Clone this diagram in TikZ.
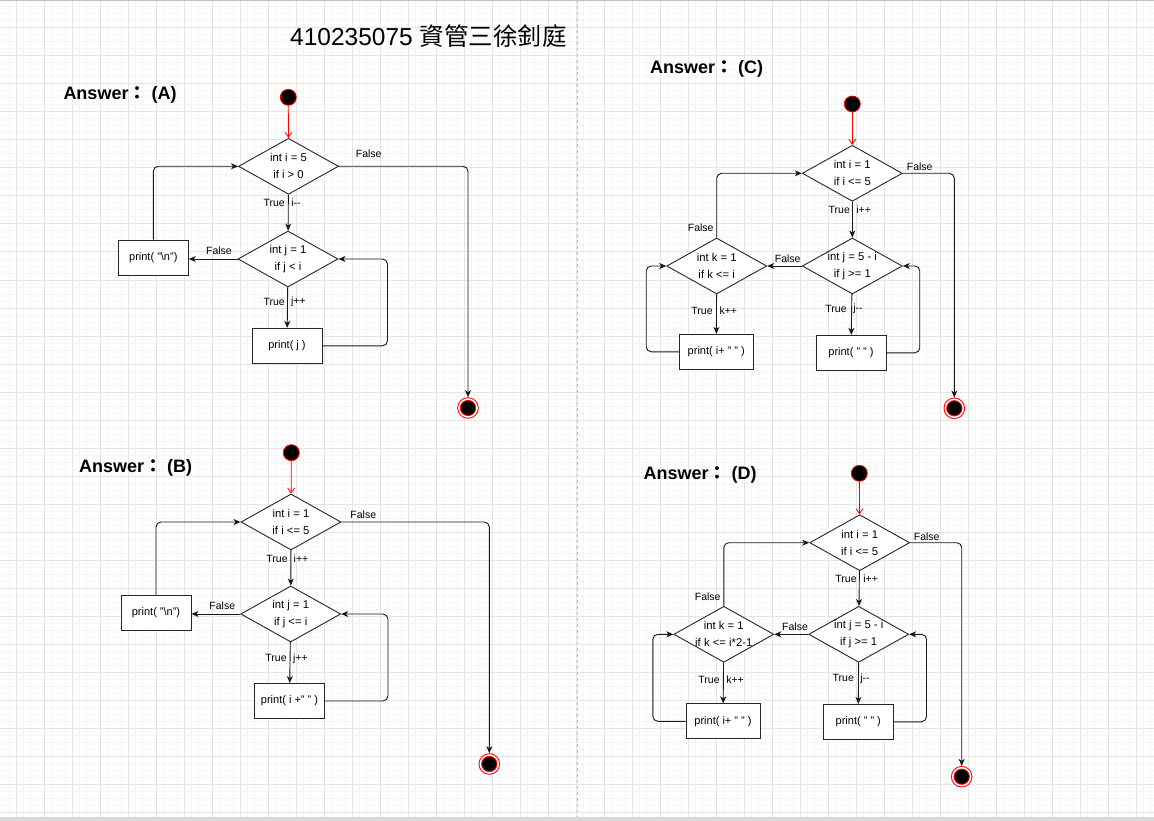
\documentclass[tikz,border=0pt]{standalone}
\usepackage{fontspec}
\setmainfont{Liberation Sans}
\newfontfamily\cjk{Noto Sans CJK TC}
\usetikzlibrary{shapes.geometric, arrows.meta, calc}
\tikzset{decision/.style={diamond, draw=black!85, fill=white, line width=0.9pt, minimum width=100pt, minimum height=56pt, inner xsep=-14pt, inner ysep=-6pt, align=center, font=\fontsize{11.3}{17}\selectfont},
box/.style={rectangle, draw=black!85, fill=white, line width=0.9pt, minimum width=70pt, minimum height=35pt, inner sep=0pt, font=\fontsize{11}{13}\selectfont},
widebox/.style={box, minimum width=74pt},
startstate/.style={circle, fill=black, draw=red, line width=0.8pt, minimum size=16pt, inner sep=0pt},
%end state: red ring round a black dot
endstate/.style={circle, fill=black, draw=red, line width=1pt, double=white, double distance=1.5pt, minimum size=18pt, inner sep=0pt, outer sep=1.75pt},
flow/.style={draw=black!90, line width=0.9pt, -{Stealth[length=7pt,width=6pt,inset=2pt]}, rounded corners=5pt},
startflow/.style={draw=red, line width=0.8pt, -{Straight Barb[length=5pt,width=7pt]}},
lbl/.style={font=\fontsize{10.5}{12}\selectfont, inner sep=0pt},
answer/.style={font=\fontsize{18}{20}\selectfont\bfseries, anchor=base west, inner sep=0pt},
gridminor/.style={black!4, line width=1pt},
gridmajor/.style={black!10, line width=1pt}}

\begin{document}
\begin{tikzpicture}[x=1pt,y=-1pt]
 \useasboundingbox (0,0) rectangle (1154,821);
 \fill[white] (0,0) rectangle (1154,821);
 
 % grid of the page
 \foreach \gx in {2,9,...,1154} \draw[gridminor] (\gx,0) -- (\gx,821);
 \foreach \gy in {7,14,...,821} \draw[gridminor] (0,\gy) -- (1154,\gy);
 \foreach \gx in {16,44,...,1154} \draw[gridmajor] (\gx,0) -- (\gx,821);
 \foreach \gy in {28,56,...,821} \draw[gridmajor] (0,\gy) -- (1154,\gy);
 \draw[black!25, line width=1pt] (0,0.5) -- (1154,0.5);
 \draw[black!25, line width=1pt, dash pattern=on 3pt off 3pt] (577,0) -- (577,817);
 \fill[black!15] (0,817) rectangle (1154,821);
 
 \node[anchor=base west, inner sep=0pt, font=\fontsize{24.5}{28}\selectfont] (title) at (290,46) {410235075 {\cjk 資管三徐釗庭}};
 
 % (A)
 \node[answer] (ansA) at (63.3,99.3) {Answer{\cjk ：} (A)};
 \node[startstate] (aStart) at (288.3,97.3) {};
 \node[decision] (aIf1) at (288.5,166.3) {int i = 5\\if i > 0};
 \node[decision] (aIf2) at (288,259) {int j = 1\\if j < i};
 \node[box] (aNl) at (153.3,257.5) {print( "\textbackslash n")};
 \node[box] (aPrt) at (287,345.8) {print( j )};
 \node[endstate] (aEnd) at (468,408) {};
 
 \node[lbl] (aF1) at (368.7,154) {False};
 \node[lbl] (aT1) at (274.2,203) {True};
 \node[lbl] (aI1) at (296,203) {i-{}-};
 \node[lbl] (aF2) at (219,251) {False};
 \node[lbl] (aT2) at (274.2,302) {True};
 \node[lbl] (aJ2) at (298.3,302) {j++};
 
 \draw[startflow] (aStart) -- (aIf1);
 \draw[flow] (aIf1.east) -| (aEnd);
 \draw[flow] (aIf1) -- (aIf2);
 \draw[flow] (aIf2.west) -- (aIf2.west -| aNl.east);
 \draw[flow] (aNl.north) |- (aIf1.west);
 \draw[flow] (aIf2) -- (aPrt);
 \draw[flow] (aPrt.east) -- ++(65,0) |- (aIf2.east);
 
 % (B)
 \node[answer] (ansB) at (79,472.3) {Answer{\cjk ：} (B)};
 \node[startstate] (bStart) at (291.3,452.7) {};
 \node[decision] (bIf1) at (291,522) {int i = 1\\if i <= 5};
 \node[decision] (bIf2) at (290.7,614) {int j = 1\\if j <= i};
 \node[box] (bNl) at (156,613) {print( "\textbackslash n")};
 \node[box] (bPrt) at (289.5,701) {print( i +" " )};
 \node[endstate] (bEnd) at (489.3,764) {};
 
 \node[lbl] (bF1) at (363.3,515) {False};
 \node[lbl] (bT1) at (277,559) {True};
 \node[lbl] (bI1) at (301,559) {i++};
 \node[lbl] (bF2) at (222.3,605.7) {False};
 \node[lbl] (bT2) at (276,658.3) {True};
 \node[lbl] (bJ2) at (300.3,658.3) {j++};
 
 \draw[startflow] (bStart) -- (bIf1);
 \draw[flow] (bIf1.east) -| (bEnd);
 \draw[flow] (bIf1) -- (bIf2);
 \draw[flow] (bIf2.west) -- (bIf2.west -| bNl.east);
 \draw[flow] (bNl.north) |- (bIf1.west);
 \draw[flow] (bIf2) -- (bPrt);
 \draw[flow] (bPrt.east) -- ++(63,0) |- (bIf2.east);
 
 % (C)
 \node[answer] (ansC) at (650,73.3) {Answer{\cjk ：} (C)};
 \node[startstate] (cStart) at (852.3,104) {};
 \node[decision] (cIf1) at (852.3,173.3) {int i = 1\\if i <= 5};
 \node[decision] (cIf2) at (852.3,266) {int j = 5 - i\\if j >= 1};
 \node[decision] (cIf3) at (716.7,266) {int k = 1\\if k <= i};
 \node[widebox] (cPrt1) at (716.3,351.8) {print( i+ " " )};
 \node[box] (cPrt2) at (851,352.8) {print( " " )};
 \node[endstate] (cEnd) at (954.3,408.3) {};
 
 \node[lbl] (cF1) at (919.7,166.7) {False};
 \node[lbl] (cT1) at (839.3,210) {True};
 \node[lbl] (cI1) at (863.7,210) {i++};
 \node[lbl] (cF3) at (700.7,227.7) {False};
 \node[lbl] (cF2) at (787.7,258.3) {False};
 \node[lbl] (cT3) at (702,311) {True};
 \node[lbl] (cK3) at (728.3,311) {k++};
 \node[lbl] (cT2) at (836,309) {True};
 \node[lbl] (cJ2) at (858,309) {j-{}-};
 
 \draw[startflow] (cStart) -- (cIf1);
 \draw[flow] (cIf1.east) -| (cEnd);
 \draw[flow] (cIf1) -- (cIf2);
 \draw[flow] (cIf2) -- (cIf3);
 \draw[flow] (cIf3.north) |- (cIf1.west);
 \draw[flow] (cIf3) -- (cPrt1);
 \draw[flow] (cPrt1.west) -- ++(-32.6,0) |- (cIf3.west);
 \draw[flow] (cIf2) -- (cPrt2);
 \draw[flow] (cPrt2.east) -- ++(33.3,0) |- (cIf2.east);
 
 % (D)
 \node[answer] (ansD) at (643.3,479) {Answer{\cjk ：} (D)};
 \node[startstate] (dStart) at (859.3,473.3) {};
 \node[decision] (dIf1) at (859.7,542.7) {int i = 1\\if i <= 5};
 \node[decision] (dIf2) at (858.7,634.3) {int j = 5 - i\\if j >= 1};
 \node[decision] (dIf3) at (723.8,634.3) {int k = 1\\if k <= i*2-1};
 \node[widebox] (dPrt1) at (723,721.3) {print( i+ " " )};
 \node[box] (dPrt2) at (858.3,721.8) {print( " " )};
 \node[endstate] (dEnd) at (961.7,776.7) {};
 
 \node[lbl] (dF1) at (926.7,536.7) {False};
 \node[lbl] (dT1) at (846,579) {True};
 \node[lbl] (dI1) at (870.7,579) {i++};
 \node[lbl] (dF3) at (707.7,596.7) {False};
 \node[lbl] (dF2) at (795,626.7) {False};
 \node[lbl] (dT3) at (709,680) {True};
 \node[lbl] (dK3) at (735,680) {k++};
 \node[lbl] (dT2) at (843.3,678.3) {True};
 \node[lbl] (dJ2) at (865,678.3) {j-{}-};
 
 \draw[startflow] (dStart) -- (dIf1);
 \draw[flow] (dIf1.east) -| (dEnd);
 \draw[flow] (dIf1) -- (dIf2);
 \draw[flow] (dIf2) -- (dIf3);
 \draw[flow] (dIf3.north) |- (dIf1.west);
 \draw[flow] (dIf3) -- (dPrt1);
 \draw[flow] (dPrt1.west) -- ++(-32.7,0) |- (dIf3.west);
 \draw[flow] (dIf2) -- (dPrt2);
 \draw[flow] (dPrt2.east) -- ++(32.7,0) |- (dIf2.east);

\end{tikzpicture}
\end{document}
